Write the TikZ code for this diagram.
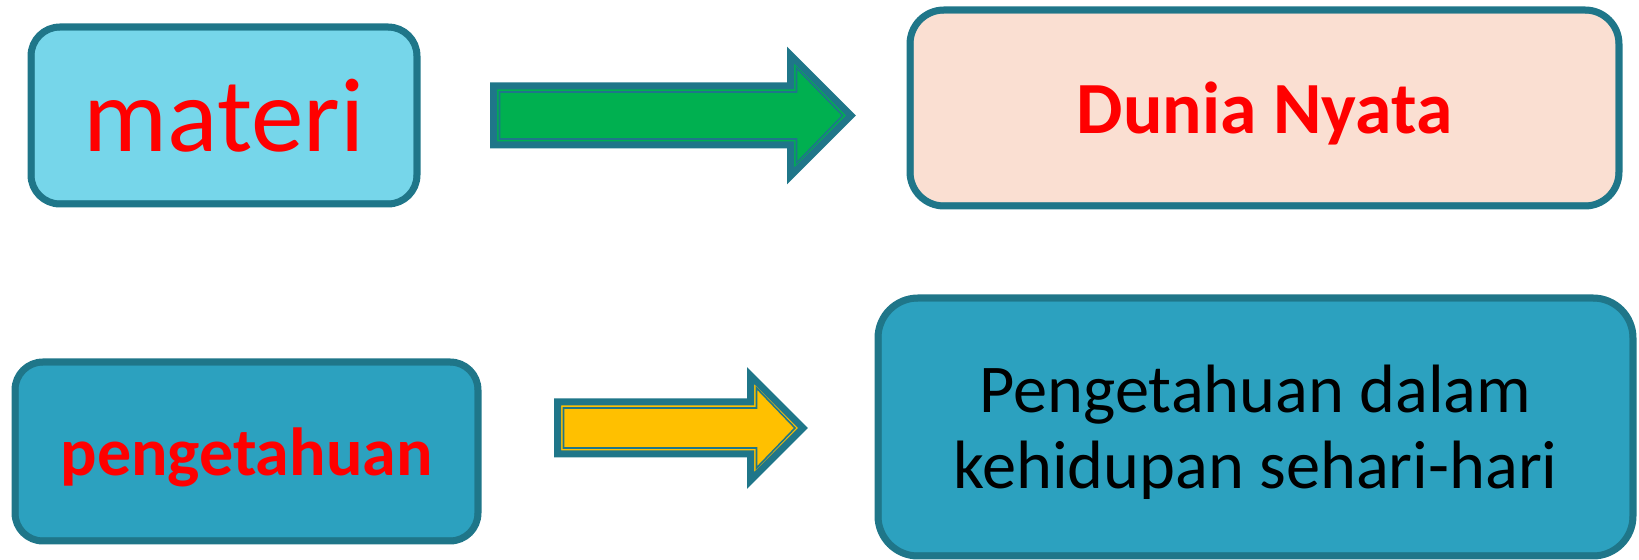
\documentclass[tikz,border=0pt]{standalone}
\usepackage{fontspec}
\setmainfont{Carlito}
\definecolor{rim}{HTML}{1F7689}
\definecolor{sky}{HTML}{76D6EA}
\definecolor{peach}{HTML}{FADFD2}
\definecolor{sea}{HTML}{2CA1BF}
\definecolor{leaf}{HTML}{00B050}
\definecolor{gold}{HTML}{FFC000}
\begin{document}
\begin{tikzpicture}[x=0.5pt,y=0.5pt]
    \tikzset{card/.style = {shape=rectangle,draw=rim,line width=3.5pt,inner sep=0pt,text depth=0pt,align=center}}
    \tikzset{thinrim/.style = {draw=rim,line width=0.8pt}}
    \tikzset{blk/.style = {draw=rim,line width=3.5pt,line join=miter}}
    \useasboundingbox (0,0) rectangle (1639,560);
    \node[card, fill=sky, rounded corners=14.5pt, minimum width=193pt, minimum height=88.5pt, text=red, font=\fontsize{52.6}{60}\selectfont] (materi) at (224,444.5) {materi};
    \node[card, fill=peach, rounded corners=17pt, minimum width=354.5pt, minimum height=98pt, text=red, font=\bfseries\fontsize{36.8}{44}\selectfont] (dunia) at (1264.5,452) {Dunia Nyata};
    \node[card, fill=sea, rounded corners=14pt, minimum width=231.5pt, minimum height=89.5pt, text=red, font=\bfseries\fontsize{34}{40}\selectfont] (peng) at (246.5,108.5) {pengetahuan};
    \node[card, fill=sea, rounded corners=20pt, minimum width=377.5pt, minimum height=129pt, font=\fontsize{34.2}{38}\selectfont] (hidup) at (1255.5,133) {Pengetahuan dalam\\kehidupan sehari-hari};
    % inner lines of the cards
    \foreach \n/\r in {materi/11.5pt, dunia/14pt, peng/11pt, hidup/17pt}
        \draw[thinrim, rounded corners=\r] ([shift={(3pt,3pt)}]\n.south west) rectangle ([shift={(-3pt,-3pt)}]\n.north east);
    % green arrow
    \draw[blk, fill=leaf] (493.5,474) -- (790.5,474) -- (790.5,505) -- (851,444.5) -- (790.5,384) -- (790.5,415) -- (493.5,415) -- cycle;
    \draw[thinrim, line join=miter] (499.5,468) -- (796.5,468) -- (796.5,492) -- (842.6,444.5) -- (796.5,397) -- (796.5,421) -- (499.5,421) -- cycle;
    % yellow arrow
    \draw[blk, fill=gold] (557.5,158) -- (750.5,158) -- (750.5,184.5) -- (803,132) -- (750.5,79.5) -- (750.5,106) -- (557.5,106) -- cycle;
    \draw[thinrim, line join=miter] (563.5,152) -- (756.5,152) -- (756.5,172) -- (795,132) -- (756.5,92) -- (756.5,112) -- (563.5,112) -- cycle;
\end{tikzpicture}
\end{document}
